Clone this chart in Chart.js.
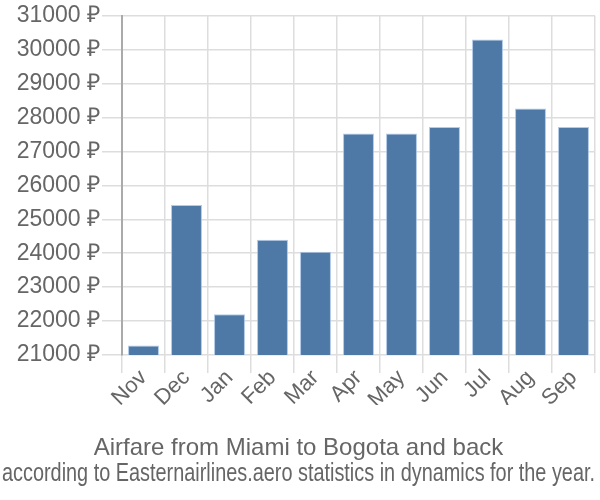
<!DOCTYPE html>
<html>
<head>
<meta charset="utf-8">
<script src="https://cdn.jsdelivr.net/npm/chart.js@4/dist/chart.umd.min.js"></script>
<style>
html,body{margin:0;padding:0;background:#fff;}
#wrap{width:600px;height:500px;}
</style>
</head>
<body>
<div id="wrap"><canvas id="c" width="600" height="500"></canvas></div>
<script>
const categories = ["Nov","Dec","Jan","Feb","Mar","Apr","May","Jun","Jul","Aug","Sep"];
const prices = [21280, 25420, 22200, 24400, 24040, 27530, 27530, 27720, 30300, 28270, 27720];
const yMin = 21000;
const yMax = 31000;
const yStep = 1000;
const currency = " \u20BD";
const titleText = "Airfare from Miami to Bogota and back";
const subtitleText = "according to Easternairlines.aero statistics in dynamics for the year.";

const FONT = "'Liberation Sans', Arial, sans-serif";
const GRAY = "#666666";

new Chart(document.getElementById('c'), {
  type: 'bar',
  data: {
    labels: categories,
    datasets: [{
      data: prices,
      backgroundColor: '#4e79a7',
      borderColor: 'rgba(160,190,225,0.8)',
      borderWidth: 1,
      barPercentage: 0.9,
      categoryPercentage: 0.8
    }]
  },
  options: {
    responsive: false,
    animation: false,
    devicePixelRatio: 1,
    layout: { padding: { top: 4, right: 5, left: 2, bottom: 0 } },
    plugins: {
      legend: { display: false },
      tooltip: { enabled: false },
      title: {
        display: true,
        text: titleText,
        position: 'bottom',
        weight: 1000,
        color: GRAY,
        font: { family: FONT, size: 24, weight: 'normal', lineHeight: 1 },
        padding: { top: 31, bottom: 0 }
      },
      subtitle: {
        display: true,
        text: subtitleText,
        position: 'bottom',
        weight: 2000,
        color: GRAY,
        font: { family: FONT, size: 25, weight: 'normal', lineHeight: 1 },
        padding: { top: 2, bottom: 13 }
      }
    },
    scales: {
      x: {
        grid: { color: '#dddddd', lineWidth: 1.5, offset: true, tickLength: 18, drawTicks: true },
        border: { color: '#dddddd' },
        ticks: {
          color: GRAY,
          font: { family: FONT, size: 22 },
          minRotation: 45,
          maxRotation: 45,
          padding: -8
        }
      },
      y: {
        min: yMin,
        max: yMax,
        afterFit: scale => { scale.width = 120; },
        grid: { color: '#dddddd', lineWidth: 1.5, tickLength: 20 },
        border: { color: '#aaaaaa', width: 2 },
        ticks: {
          stepSize: yStep,
          color: GRAY,
          font: { family: FONT, size: 23 },
          padding: 2,
          callback: v => v + currency
        }
      }
    }
  }
});
</script>
</body>
</html>
